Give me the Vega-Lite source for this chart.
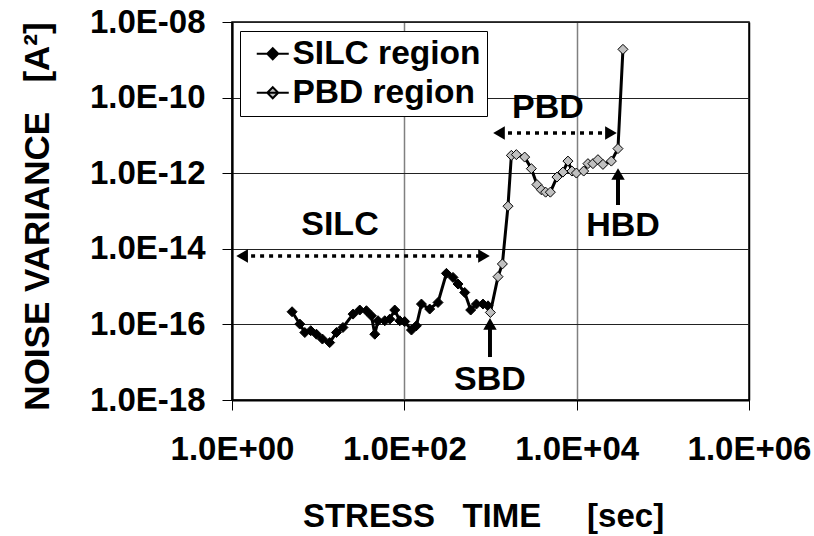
{
  "$schema": "https://vega.github.io/schema/vega-lite/v6.json",
  "width": 517,
  "height": 378,
  "autosize": {"type": "none"},
  "padding": {"left": 232, "top": 22, "right": 65, "bottom": 136},
  "background": "white",
  "config": {
    "view": {"stroke": "black", "strokeWidth": 1.5},
    "font": "Liberation Sans",
    "axis": {
      "labelFont": "Liberation Sans", "labelFontWeight": "bold", "labelFontSize": 33, "labelColor": "black",
      "titleFont": "Liberation Sans", "titleFontWeight": "bold", "titleFontSize": 33, "titleColor": "black",
      "domainColor": "black", "domainWidth": 2, "tickColor": "black", "tickWidth": 1, "tickSize": 10,
      "labelOverlap": false, "labelFlush": false
    }
  },
  "datasets": {
    "pts": [
      {"t": 4.98, "v": 2.16e-16, "series": "SILC region"},
      {"t": 6.12, "v": 1.02e-16, "series": "SILC region"},
      {"t": 7.0, "v": 6.1e-17, "series": "SILC region"},
      {"t": 8.2, "v": 6.8e-17, "series": "SILC region"},
      {"t": 9.55, "v": 5.5e-17, "series": "SILC region"},
      {"t": 11.2, "v": 4.1e-17, "series": "SILC region"},
      {"t": 13.6, "v": 3.3e-17, "series": "SILC region"},
      {"t": 16.3, "v": 6.1e-17, "series": "SILC region"},
      {"t": 19.4, "v": 8.3e-17, "series": "SILC region"},
      {"t": 25.4, "v": 1.87e-16, "series": "SILC region"},
      {"t": 30.4, "v": 2.4e-16, "series": "SILC region"},
      {"t": 36.3, "v": 2.3e-16, "series": "SILC region"},
      {"t": 41.5, "v": 1.69e-16, "series": "SILC region"},
      {"t": 45.4, "v": 5.5e-17, "series": "SILC region"},
      {"t": 49.5, "v": 1.25e-16, "series": "SILC region"},
      {"t": 59.3, "v": 1.25e-16, "series": "SILC region"},
      {"t": 67.8, "v": 1.38e-16, "series": "SILC region"},
      {"t": 77.4, "v": 2.4e-16, "series": "SILC region"},
      {"t": 88.5, "v": 1.25e-16, "series": "SILC region"},
      {"t": 101, "v": 1.19e-16, "series": "SILC region"},
      {"t": 121, "v": 7.1e-17, "series": "SILC region"},
      {"t": 138, "v": 9.2e-17, "series": "SILC region"},
      {"t": 158, "v": 3.45e-16, "series": "SILC region"},
      {"t": 197, "v": 2.55e-16, "series": "SILC region"},
      {"t": 246, "v": 3.8e-16, "series": "SILC region"},
      {"t": 308, "v": 2.24e-15, "series": "SILC region"},
      {"t": 367, "v": 1.75e-15, "series": "SILC region"},
      {"t": 420, "v": 1.17e-15, "series": "SILC region"},
      {"t": 502, "v": 7.0e-16, "series": "SILC region"},
      {"t": 589, "v": 2.4e-16, "series": "SILC region"},
      {"t": 686, "v": 3.45e-16, "series": "SILC region"},
      {"t": 819, "v": 3.45e-16, "series": "SILC region"},
      {"t": 936, "v": 3.1e-16, "series": "SILC region"},
      {"t": 997, "v": 2.07e-16, "series": "PBD region"},
      {"t": 1222, "v": 1.83e-15, "series": "PBD region"},
      {"t": 1374, "v": 3.97e-15, "series": "PBD region"},
      {"t": 1596, "v": 1.34e-13, "series": "PBD region"},
      {"t": 1746, "v": 2.96e-12, "series": "PBD region"},
      {"t": 1996, "v": 3.1e-12, "series": "PBD region"},
      {"t": 2493, "v": 2.67e-12, "series": "PBD region"},
      {"t": 2980, "v": 1.32e-12, "series": "PBD region"},
      {"t": 3460, "v": 5.0e-13, "series": "PBD region"},
      {"t": 3894, "v": 3.65e-13, "series": "PBD region"},
      {"t": 4366, "v": 3.15e-13, "series": "PBD region"},
      {"t": 4950, "v": 3.15e-13, "series": "PBD region"},
      {"t": 5905, "v": 7.9e-13, "series": "PBD region"},
      {"t": 6930, "v": 1.07e-12, "series": "PBD region"},
      {"t": 7920, "v": 2.09e-12, "series": "PBD region"},
      {"t": 8820, "v": 1.14e-12, "series": "PBD region"},
      {"t": 9930, "v": 1.01e-12, "series": "PBD region"},
      {"t": 12060, "v": 1.14e-12, "series": "PBD region"},
      {"t": 13520, "v": 1.79e-12, "series": "PBD region"},
      {"t": 15450, "v": 1.79e-12, "series": "PBD region"},
      {"t": 17660, "v": 2.28e-12, "series": "PBD region"},
      {"t": 20180, "v": 1.71e-12, "series": "PBD region"},
      {"t": 25270, "v": 2.09e-12, "series": "PBD region"},
      {"t": 30150, "v": 4.47e-12, "series": "PBD region"},
      {"t": 34440, "v": 1.89e-9, "series": "PBD region"}
    ],
    "labels": [
      {"label": "SILC", "t": 17.9, "v": 4.26e-14},
      {"label": "PBD", "t": 4650, "v": 5.31e-11},
      {"label": "SBD", "t": 986, "v": 3.38e-18},
      {"label": "HBD", "t": 34500, "v": 4.0e-14}
    ],
    "dashes": [
      {"t": 1.31, "t2": 840, "v": 6.45e-15},
      {"t": 1255, "t2": 25000, "v": 1.16e-11}
    ],
    "shafts": [
      {"t": 986, "v": 1.03e-16, "v2": 1.37e-17},
      {"t": 30200, "v": 9.5e-13, "v2": 1.44e-13}
    ],
    "heads": [
      {"t": 1.31, "v": 6.45e-15, "dir": "triangle-left"},
      {"t": 840, "v": 6.45e-15, "dir": "triangle-right"},
      {"t": 1255, "v": 1.16e-11, "dir": "triangle-left"},
      {"t": 25000, "v": 1.16e-11, "dir": "triangle-right"},
      {"t": 986, "v": 1.03e-16, "dir": "triangle-up"},
      {"t": 30200, "v": 9.5e-13, "dir": "triangle-up"}
    ]
  },
  "encoding": {
    "x": {
      "field": "t", "type": "quantitative",
      "scale": {"type": "log", "domain": [1, 1000000], "nice": false},
      "axis": {
        "values": [1, 100, 10000, 1000000],
        "labelExpr": "'1.0E+0' + format(log(datum.value)/LN10, '.0f')",
        "labelPadding": 23,
        "grid": true,
        "gridColor": {"condition": {"test": "datum.value > 1 && datum.value < 1000000", "value": "#808080"}, "value": "black"},
        "gridWidth": 1.5,
        "title": "STRESS\u00a0\u00a0\u00a0TIME\u00a0\u00a0\u00a0\u00a0\u00a0[sec]",
        "titleX": 251, "titleY": 116, "titleAlign": "center", "titleBaseline": "middle"
      }
    },
    "y": {
      "field": "v", "type": "quantitative",
      "scale": {"type": "log", "domain": [1e-18, 1e-8], "nice": false},
      "axis": {
        "values": [1e-18, 1e-16, 1e-14, 1e-12, 1e-10, 1e-8],
        "labelExpr": "'1.0E-' + pad(format(-log(datum.value)/LN10, '.0f'), 2, '0', 'left')",
        "labelPadding": 17,
        "grid": true, "gridColor": "#222222", "gridWidth": 1.2,
        "title": "NOISE VARIANCE\u00a0\u00a0\u00a0[A²]",
        "titleFontSize": 35,
        "titleAngle": 270, "titleX": -195, "titleY": 194, "titleAlign": "center", "titleBaseline": "middle"
      }
    }
  },
  "layer": [
    {
      "data": {"name": "pts"},
      "mark": {"type": "line", "color": "black", "strokeWidth": 3},
      "encoding": {}
    },
    {
      "data": {"name": "pts"},
      "mark": {"type": "point", "shape": "diamond", "filled": true, "stroke": "black", "strokeWidth": 1, "size": 100, "opacity": 1},
      "encoding": {
        "fill": {
          "field": "series", "type": "nominal",
          "scale": {"domain": ["SILC region", "PBD region"], "range": ["black", "#c0c0c0"]},
          "legend": {
            "orient": "none", "legendX": 8, "legendY": 9, "title": null,
            "symbolType": "M-1.6,0H1.6M0,-0.55L0.55,0L0,0.55L-0.55,0Z",
            "symbolSize": 400, "symbolStrokeColor": "black", "symbolStrokeWidth": 2,
            "symbolOffset": 10, "labelOffset": 3, "padding": 6, "rowPadding": 4,
            "labelFontSize": 33.5, "labelFont": "Liberation Sans", "labelFontWeight": "bold", "labelColor": "black", "labelLimit": 400,
            "fillColor": "white", "strokeColor": "black"
          }
        }
      }
    },
    {
      "data": {"name": "dashes"},
      "mark": {"type": "rule", "color": "black", "strokeWidth": 3.5, "strokeDash": [4, 5]},
      "encoding": {"x2": {"field": "t2"}}
    },
    {
      "data": {"name": "shafts"},
      "mark": {"type": "rule", "color": "black", "strokeWidth": 4},
      "encoding": {"y2": {"field": "v2"}}
    },
    {
      "data": {"name": "heads"},
      "mark": {"type": "point", "filled": true, "color": "black", "size": 180, "opacity": 1},
      "encoding": {"shape": {"field": "dir", "type": "nominal", "scale": null, "legend": null}}
    },
    {
      "data": {"name": "labels"},
      "mark": {"type": "text", "font": "Liberation Sans", "fontWeight": "bold", "fontSize": 34, "color": "black", "align": "center", "baseline": "middle"},
      "encoding": {"text": {"field": "label"}}
    }
  ]
}
